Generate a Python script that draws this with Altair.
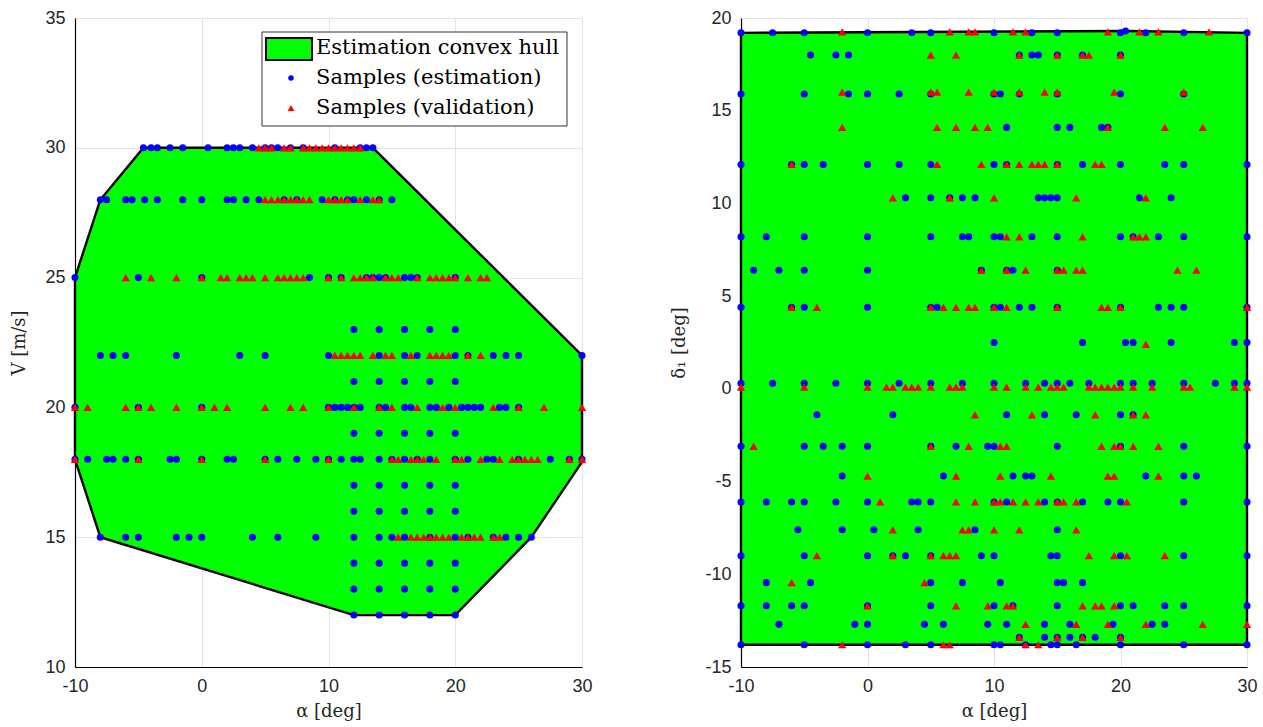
import altair as alt
import pandas as pd

# ---------------- Left panel (alpha vs V) ----------------
left_est = {
    30: [-4.6, -4, -3.5, -2.5, -1.5, 0.5, 2, 2.5, 3, 4, 5, 5.5, 6, 7, 8, 10.5, 12.5, 13, 13.5],
    28: [-8, -7.5, -6, -5.5, -4.5, -3.5, -1.5, 0, 2, 2.5, 3.5, 4.5, 6.5, 7.5, 9.5, 10.5, 11.5, 12, 13, 14, 15],
    25: [-10, -5, 0, 8.5, 10, 11, 13, 13.5, 14, 14.5, 16, 16.5, 17, 20],
    23: [12, 14, 16, 18, 20],
    22: [-8, -7, -6, -2, 3, 5, 10, 14, 16, 17, 20, 21, 23, 24, 25, 30],
    21: [12, 14, 16, 18, 20],
    20: [-10, -5, 0, 10, 10.5, 11, 11.5, 12, 12.5, 14, 14.5, 16, 16.5, 18, 18.5, 19.5, 20.5, 21, 21.5, 22, 23.5, 24, 25],
    19: [12, 14, 16, 18, 20],
    18: [-10, -9, -7.5, -7, -6, -5, -2.5, -2, 0, 2, 2.5, 5, 6, 7.5, 9, 10, 11, 12, 12.5, 14, 15, 16, 17, 18, 20, 21, 22.5, 23, 25, 27.5, 29, 30],
    17: [12, 14, 16, 18, 20],
    16: [12, 14, 16, 18, 20],
    15: [-8, -6, -5, -2, -1, 0, 4, 6, 9, 12, 14, 15, 16, 18, 20, 21, 23, 24, 25, 26],
    14: [12, 14, 16, 18, 20],
    13: [12, 14, 16, 18, 20],
    12: [12, 14, 16, 18, 20],
}
left_val = {
    30: [4.5, 5, 5.5, 6.5, 7, 8, 8.5, 9, 9.5, 10, 10.5, 11, 11.5, 12, 12.5],
    28: [5, 5.5, 6, 6.5, 7, 7.5, 8, 8.5, 10, 10.5, 11, 11.5, 12.5, 13.5, 14],
    25: [-6, -4, -2, 0, 1.5, 2, 3, 3.5, 4, 5, 6, 6.5, 7, 7.5, 8, 10, 11, 12, 12.5, 13, 13.5, 14.5, 15, 15.5, 17, 18, 18.5, 19, 19.5, 20, 21, 22, 22.5],
    22: [10.5, 11, 11.5, 12, 12.5, 13.5, 14.5, 15, 16.5, 18, 18.5, 19, 19.5, 21, 22],
    20: [-10, -9, -6, -5, -4, -2, 0, 1, 2, 5, 7, 8, 10, 12, 14, 15, 17, 19, 20, 23, 25, 27, 30],
    18: [-10, -5, 0, 5, 10, 15, 15.5, 16.5, 17, 17.5, 18.5, 20, 20.5, 22, 23.5, 24.5, 25, 25.5, 26, 26.5, 29, 30],
    15: [15.5, 16.5, 17, 17.5, 18, 18.5, 19, 19.5, 20.5, 21, 21.5, 22, 23, 23.5],
}
left_hull_alpha = [-10, -8, 12, 20, 26, 30, 30, 13.5, -4.6, -8, -10, -10]
left_hull_v = [18, 15, 12, 12, 15, 17.9, 22, 30, 30, 28, 25, 18]

# ---------------- Right panel (alpha vs delta_1) ----------------
right_est = {
    19.2: [-10, -7.5, -5, 0, 3.5, 5, 10, 13, 15, 20, 22, 25, 30],
    19.3: [20.4],
    18.0: [-4.5, -2.5, -1.5, 12, 13, 13.5, 15, 17, 20],
    15.9: [-10, -5, -1.5, 0, 2.5, 5, 10, 10.5, 12, 15, 20, 25],
    14.1: [11, 15, 16, 18.5, 19],
    12.1: [-10, -6, -5, -3.5, 0, 2.5, 5, 10, 11, 15, 17, 20, 23.5, 25, 30],
    10.3: [3, 5, 6.5, 7.5, 8.5, 13.5, 14, 14.5, 15, 21.5, 24],
    8.2: [-10, -8, -5, 0, 5, 7.5, 8, 10, 10.5, 13, 15, 20, 21, 23, 25, 30],
    6.4: [-9, -7, -5, 0, 9, 11, 11.5, 15],
    4.4: [-10, -6, -5, 0, 5, 5.5, 10, 10.5, 12, 13, 15, 20, 23, 24, 25, 30],
    2.5: [10, 17, 20.4, 21, 24, 29, 30],
    0.3: [-10, -7.5, -5, -2.5, 0, 2.5, 5, 7.5, 10, 12.5, 14, 15, 16, 17.5, 20, 21, 22.5, 25, 27.5, 29, 30],
    -1.4: [-4, 2, 11, 14, 16.5, 20, 21],
    -3.1: [-10, -5, -3.5, -2, 0, 5, 7, 9.5, 10, 15, 20, 25, 30],
    -4.7: [-2, 6, 11.5, 12.5, 13, 22, 25, 26],
    -6.1: [-10, -8, -6, -5, -2.5, 0, 3.5, 4, 5, 10, 11, 14, 15, 17, 19, 20, 25, 30],
    -7.6: [-5.5, -2, 0.5, 4, 8.5, 15],
    -9.0: [-10, -5, 0, 2, 3, 5, 9, 10, 14.5, 15, 20, 25, 30],
    -10.45: [-8, -4.5, 5, 7.5, 10.5, 15, 15.5, 17],
    -11.7: [-10, -8, -6, -5, 0, 5, 10, 11.5, 15, 20, 21, 23.5, 25, 30],
    -12.7: [-7, -1, 0, 4.5, 6, 9.5, 11, 14, 16, 19.4, 22.5, 23.5],
    -13.4: [12, 14, 15, 16, 17, 18, 20],
    -13.8: [-10, -5, 0, 3, 5, 10, 10.5, 12.5, 14.5, 15, 16.5, 20, 25, 30],
}
right_val = {
    19.25: [-2, 6.5, 8, 8.5, 11.5, 12.5, 19, 21.5, 23, 27],
    18.0: [5, 7, 12, 15, 17, 17.5, 20],
    16.0: [-2, 5, 5.5, 8, 10, 12, 14, 15, 19.5, 25],
    14.1: [-2, 5.5, 7, 8.5, 9.5, 19, 23.5, 26.5],
    12.1: [-6, 5.5, 9, 11, 12, 13, 13.5, 14, 15, 18, 18.5],
    10.3: [2, 6.5, 10, 16.5, 22],
    8.2: [11, 12, 17, 21, 21.5, 22],
    6.4: [9, 11, 12.5, 15, 15.5, 16.5, 17, 24.5, 26],
    4.4: [-6, -4, 5, 6, 7, 8, 8.5, 10, 11, 15, 18.5, 19, 20, 30],
    2.4: [22],
    0.1: [-10, -5, 0, 1.5, 2, 3, 3.5, 4, 5, 6.5, 7, 7.5, 10, 11, 12.5, 13.5, 14.5, 15, 15.5, 17.5, 18, 18.5, 19, 19.5, 20, 21, 22.5, 25, 25.5, 29, 30],
    -1.4: [8.5, 13, 18, 21, 22],
    -3.1: [-9, 5, 8, 10.5, 11, 18.5, 19.5, 20, 21, 23],
    -4.7: [0, 7, 10.5, 14.5, 19, 19.5, 23],
    -6.1: [1, 7, 8.5, 10, 10.5, 11.5, 12.5, 13.5, 15, 15.5, 16.5, 20.5],
    -7.6: [2, 7.5, 8, 10, 12, 16.5],
    -9.0: [-4, 2, 5, 6, 6.5, 7, 17.5, 19.5, 20.5, 23.5],
    -10.45: [-6, 4.5],
    -11.7: [0, 7, 9.5, 11, 11.5, 17, 18, 18.5, 19.5],
    -12.7: [12.5, 16.5, 19, 22, 26.5, 30],
    -13.4: [12, 15, 17, 20],
    -13.8: [-2, 6, 6.5, 12.5, 13.5],
}
right_hull_alpha = [-10, 30, 30, 20.4, -10, -10]
right_hull_delta = [-13.8, -13.8, 19.2, 19.3, 19.2, -13.8]

x_ticks = [-10, 0, 10, 20, 30]
left_y_ticks = [10, 15, 20, 25, 30, 35]
right_y_ticks = [-15, -10, -5, 0, 5, 10, 15, 20]

legend_labels = ["Estimation convex hull", "Samples (estimation)", "Samples (validation)"]

GREEN = "#00ff00"
BLUE = "#0000ff"
RED = "#ff0000"
GRID = "#e3e3e3"


def rows_to_df(rows):
    recs = []
    for yv, xs in rows.items():
        for xv in xs:
            recs.append({"alpha": xv, "y": yv})
    return pd.DataFrame(recs)


def axis(values, title, title_pad):
    return alt.Axis(values=values, title=title, grid=True, gridColor=GRID,
                    gridWidth=1, domainColor="#000000", domainWidth=1.2,
                    ticks=False, labelPadding=10, labelFont="Liberation Sans",
                    labelFontSize=18, labelColor="#262626",
                    labelFlush=False, labelOverlap=False,
                    labelExpr="datum.value + ''", titlePadding=title_pad,
                    titleFont="DejaVu Serif", titleFontSize=18,
                    titleFontWeight="normal", titleColor="#262626")


def panel(hull_x, hull_y, est_rows, val_rows, ydom, yticks, ytitle):
    xenc = alt.X("alpha:Q", scale=alt.Scale(domain=[-10, 30], nice=False, zero=False),
                 axis=axis(x_ticks, "α [deg]", 7))
    yenc = alt.Y("y:Q", scale=alt.Scale(domain=ydom, nice=False, zero=False),
                 axis=axis(yticks, ytitle, 16))
    hull_df = pd.DataFrame({"alpha": hull_x, "y": hull_y, "i": list(range(len(hull_x)))})
    hull = alt.Chart(hull_df).mark_line(fill=GREEN, stroke="black", strokeWidth=2.4,
                                         strokeJoin="miter").encode(
        x=xenc, y=yenc, order="i:Q")
    est = alt.Chart(rows_to_df(est_rows)).mark_point(
        shape="circle", filled=True, color=BLUE, size=50, opacity=1).encode(
        x="alpha:Q", y="y:Q")
    val = alt.Chart(rows_to_df(val_rows)).mark_point(
        shape="triangle-up", filled=True, color=RED, size=70, opacity=1).encode(
        x="alpha:Q", y="y:Q")
    return [hull, est, val]


left_layers = panel(left_hull_alpha, left_hull_v, left_est, left_val, [10, 35],
                    left_y_ticks, "V [m/s]")

one = pd.DataFrame({"k": [0]})
lg_font = dict(font="DejaVu Serif", fontSize=21, align="left", baseline="middle", color="#000000")
legend_layers = [
    alt.Chart(one).mark_rect(fill="white", stroke="#333333", strokeWidth=1).encode(
        x=alt.value(187), x2=alt.value(492), y=alt.value(14), y2=alt.value(108)),
    alt.Chart(one).mark_rect(fill=GREEN, stroke="black", strokeWidth=2).encode(
        x=alt.value(191), x2=alt.value(237), y=alt.value(20), y2=alt.value(42)),
    alt.Chart(one).mark_point(shape="circle", filled=True, color=BLUE, size=30, opacity=1).encode(
        x=alt.value(216), y=alt.value(60)),
    alt.Chart(one).mark_point(shape="triangle-up", filled=True, color=RED, size=45, opacity=1).encode(
        x=alt.value(216), y=alt.value(90)),
    alt.Chart(one).mark_text(text=legend_labels[0], **lg_font).encode(
        x=alt.value(241), y=alt.value(30)),
    alt.Chart(one).mark_text(text=legend_labels[1], **lg_font).encode(
        x=alt.value(241), y=alt.value(60)),
    alt.Chart(one).mark_text(text=legend_labels[2], **lg_font).encode(
        x=alt.value(241), y=alt.value(90)),
]

left = alt.layer(*left_layers, *legend_layers).properties(width=507, height=649)

right_layers = panel(right_hull_alpha, right_hull_delta, right_est, right_val, [-15, 20],
                     right_y_ticks, "δ₁ [deg]")
right = alt.layer(*right_layers).properties(width=506, height=649)

chart = alt.hconcat(left, right, spacing=159, bounds="flush").properties(
    padding={"left": 10, "top": 8, "right": 5, "bottom": 5},
).configure_view(stroke=GRID, strokeWidth=1).configure(background="white")

chart.save("out.html", embed_options={"renderer": "svg", "actions": False})
